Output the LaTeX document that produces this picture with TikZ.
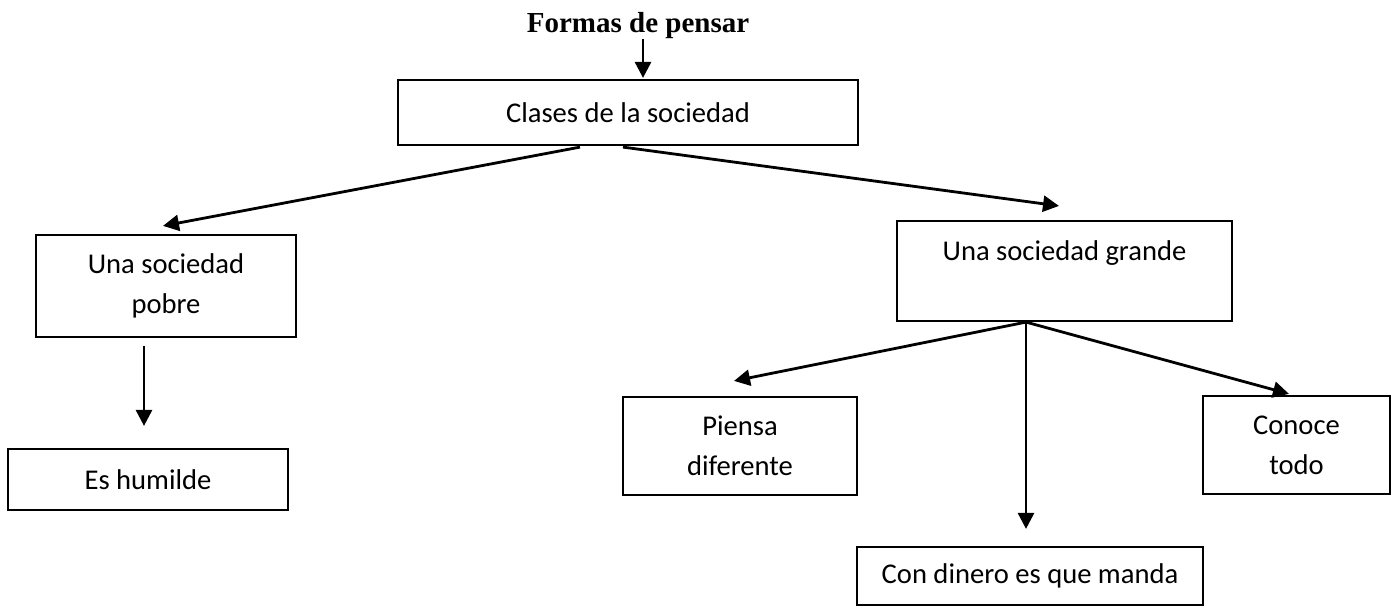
\documentclass[tikz,border=0pt]{standalone}
\usepackage{fontspec}
\setmainfont{Carlito}
\newfontfamily\titlefont{Liberation Serif}
\usetikzlibrary{arrows.meta,calc}
\begin{document}
\begin{tikzpicture}[x=0.5pt,y=-0.5pt,
  box/.style={draw,line width=1.1pt,inner sep=0pt,align=center,font=\fontsize{14.3pt}{20pt}\selectfont},
  arr/.style={line width=1.4pt,-{Triangle[length=8pt,width=8pt]}}]
\useasboundingbox (0,0) rectangle (1400,606);
\node[anchor=base,font=\titlefont\bfseries\fontsize{14.5pt}{17pt}\selectfont] (title) at (638,32) {Formas de pensar};
\node[box,minimum width=230pt,minimum height=32.5pt] (clases) at (628,112.5) {Clases de la sociedad};
\node[box,minimum width=130pt,minimum height=51pt] (pobre) at (166,286) {Una sociedad\\pobre};
\node[box,minimum width=140pt,minimum height=30.5pt] (humilde) at (148,479.5) {Es humilde};
\node[box,minimum width=167.5pt,minimum height=50pt] (grande) at (1064.5,271) {Una sociedad grande\\~};
\node[box,minimum width=117pt,minimum height=49pt] (piensa) at (740,446) {Piensa\\diferente};
\node[box,minimum width=93.5pt,minimum height=49pt] (conoce) at (1296.5,445) {Conoce\\todo};
\node[box,minimum width=173pt,minimum height=29pt] (dinero) at (1030,576) {Con dinero es que manda};
\coordinate (fan) at ($(grande.south)+(-38.5,0)$);
\draw[arr] ($(clases.north)+(15,-40)$) -- ($(clases.north)+(15,-1)$);
\draw[arr] ($(clases.south)+(-48,1)$) -- ($(pobre.north)+(-3,-8)$);
\draw[arr] ($(clases.south)+(-5,1)$) -- ($(grande.north)+(-5.5,-14)$);
\draw[arr] ($(pobre.south)+(-22,8)$) -- ($(humilde.north)+(-4,-22)$);
\draw[arr] (fan) -- ($(piensa.north)+(-6,-15)$);
\draw[arr] (fan) -- ($(dinero.north)+(-4,-17)$);
\draw[arr] (fan) -- ($(conoce.north)+(-7.5,-1)$);
\end{tikzpicture}
\end{document}
